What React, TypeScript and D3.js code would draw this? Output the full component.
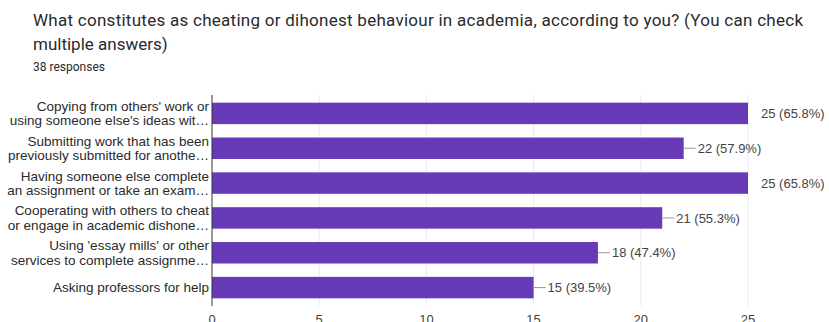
import React from "react";
import * as d3 from "d3";

const title1 = "What constitutes as cheating or dihonest behaviour in academia, according to you? (You can check";
const title2 = "multiple answers)";
const subtitle = "38 responses";

const categories: string[][] = [
  ["Copying from others' work or", "using someone else's ideas wit…"],
  ["Submitting work that has been", "previously submitted for anothe…"],
  ["Having someone else complete", "an assignment or take an exam…"],
  ["Cooperating with others to cheat", "or engage in academic dishone…"],
  ["Using 'essay mills' or other", "services to complete assignme…"],
  ["Asking professors for help"],
];
const counts = [25, 22, 25, 21, 18, 15];
const percents = ["65.8%", "57.9%", "65.8%", "55.3%", "47.4%", "39.5%"];
const xTicks = [0, 5, 10, 15, 20, 25];

const W = 829;
const H = 322;

export default function App() {
  const x = d3.scaleLinear().domain([0, 25]).range([212, 748]);
  const ids = categories.map((_, i) => String(i));
  const y = d3.scaleBand().domain(ids).range([95, 306]).paddingInner(0.384).paddingOuter(0.22);
  const bw = y.bandwidth();
  const maxV = d3.max(counts) as number;
  const lineGap = 14.5;

  return (
    <div style={{ position: "absolute", left: 0, top: 0, width: W, height: H, background: "#fff" }}>
      <svg width={W} height={H} style={{ display: "block" }}>
        <rect x={0} y={0} width={W} height={H} fill="#ffffff" />
        <text x={33} y={26} fontFamily="Roboto" fontSize={17} fill="#2a2a2e" textLength={770} lengthAdjust="spacing">{title1}</text>
        <text x={33} y={50} fontFamily="Roboto" fontSize={17} fill="#2a2a2e">{title2}</text>
        <text x={33} y={71} fontFamily="Roboto" fontSize={12} fill="#2a2a2e">{subtitle}</text>

        {xTicks.filter((t) => t > 0).map((t) => (
          <line key={"g" + t} x1={x(t)} x2={x(t)} y1={95} y2={306} stroke="#ebebeb" strokeWidth={1} />
        ))}

        {counts.map((v, i) => (
          <rect key={"b" + i} x={x(0)} y={y(String(i))} width={x(v) - x(0)} height={bw} fill="#673ab7" />
        ))}

        <line x1={x(0)} x2={x(0)} y1={95} y2={306} stroke="#333333" strokeWidth={1} />

        {categories.map((lines, i) => {
          const cy = (y(String(i)) as number) + bw / 2;
          const n = lines.length;
          return (
            <text key={"c" + i} textAnchor="end" fontFamily="Arial, 'Liberation Sans'" fontSize={13.5} fill="#2a2a2a">
              {lines.map((ln, j) => (
                <tspan key={j} x={209} y={cy + 4.7 + (j - (n - 1) / 2) * lineGap}>{ln}</tspan>
              ))}
            </text>
          );
        })}

        {counts.map((v, i) => {
          const cy = (y(String(i)) as number) + bw / 2;
          const xe = x(v);
          const isMax = v === maxV;
          return (
            <g key={"v" + i}>
              {!isMax && <line x1={xe} x2={xe + 12} y1={cy} y2={cy} stroke="#999999" strokeWidth={1} />}
              <text x={xe + (isMax ? 13 : 14)} y={cy + 4.6} fontFamily="Arial, 'Liberation Sans'" fontSize={13} fill="#444444">
                {`${v} (${percents[i]})`}
              </text>
            </g>
          );
        })}

        {xTicks.map((t) => (
          <text key={"t" + t} x={x(t)} y={324} textAnchor="middle" fontFamily="Arial, 'Liberation Sans'" fontSize={13} fill="#444444">
            {t}
          </text>
        ))}
      </svg>
    </div>
  );
}
